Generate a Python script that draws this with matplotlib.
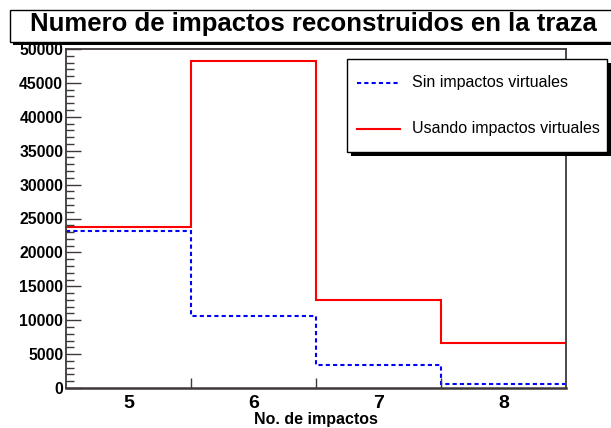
import matplotlib
matplotlib.use("Agg")
import matplotlib.pyplot as plt
from matplotlib.patches import Rectangle
from matplotlib.lines import Line2D
import numpy as np

# histogram data (number of reconstructed hits per track)
bin_labels = ["5", "6", "7", "8"]
bin_edges = [4.5, 5.5, 6.5, 7.5, 8.5]
sin_virtuales = [23200, 10600, 3400, 550]
con_virtuales = [23700, 48300, 13000, 6700]

title = "Numero de impactos reconstruidos en la traza"
xlabel = "No. de impactos"
leg_labels = ["Sin impactos virtuales", "Usando impactos virtuales"]

plt.rcParams['font.family'] = ['Liberation Sans', 'DejaVu Sans']

W, H = 611, 428
fig = plt.figure(figsize=(W / 100, H / 100), dpi=100)
ax = fig.add_axes([66 / W, 1 - 388 / H, 500 / W, 339 / H])

frame_col = '#3f3838'
ax.stairs(sin_virtuales, bin_edges, baseline=None, color='#0000ff',
          linewidth=1.5, linestyle=(0, (2, 1.5)))
ax.stairs(con_virtuales, bin_edges, baseline=None, color='#ff0000',
          linewidth=1.5)

ax.set_xlim(bin_edges[0], bin_edges[-1])
ax.set_ylim(0, 50000)

centers = [(bin_edges[i] + bin_edges[i + 1]) / 2 for i in range(len(bin_labels))]
ax.set_xticks(centers)
ax.set_xticklabels(bin_labels, fontsize=14, fontweight='bold')
ax.set_xticks(bin_edges[1:-1], minor=True)
ax.tick_params(axis='x', which='major', length=0, pad=5)
ax.tick_params(axis='x', which='minor', length=7.2, direction='in',
               color=frame_col, width=1)

ax.set_yticks(np.arange(0, 50001, 5000))
ax.set_yticks(np.arange(0, 50001, 1000), minor=True)
ax.set_yticklabels([str(v) for v in range(0, 50001, 5000)],
                   fontsize=11.3, fontweight='bold')
ax.tick_params(axis='y', which='major', length=10.8, direction='in',
               color=frame_col, width=1, pad=2)
ax.tick_params(axis='y', which='minor', length=5.4, direction='in',
               color=frame_col, width=1)

for s in ax.spines.values():
    s.set_color(frame_col)
    s.set_linewidth(1.3)
ax.spines['bottom'].set_linewidth(1.8)

ax.set_xlabel(xlabel, fontsize=11.5, fontweight='bold')
ax.xaxis.set_label_coords(0.5, (388 - 412) / 339)


def px(x, y):
    # figure pixel (top-left origin) -> figure fraction
    return x / W, 1 - y / H


# title box with shadow
x0, y0 = px(13, 44.5)
fig.add_artist(Rectangle((x0, y0), 1.0, 33 / H, transform=fig.transFigure,
                         facecolor='black', edgecolor='none', zorder=10))
x0, y0 = px(10, 42)
fig.add_artist(Rectangle((x0, y0), 1.0, 32.5 / H, transform=fig.transFigure,
                         facecolor='white', edgecolor='black', linewidth=1,
                         zorder=11))
tx, ty = px(313, 31)
fig.text(tx, ty, title, ha='center', va='baseline', fontsize=18.5,
         fontweight='bold', zorder=12)

# legend box with shadow
x0, y0 = px(351, 156)
fig.add_artist(Rectangle((x0, y0), 260 / W, 93 / H, transform=fig.transFigure,
                         facecolor='black', edgecolor='none', zorder=10))
x0, y0 = px(347, 152)
fig.add_artist(Rectangle((x0, y0), 260 / W, 93 / H, transform=fig.transFigure,
                         facecolor='white', edgecolor='black', linewidth=1,
                         zorder=11))
styles = [dict(color='#0000ff', linestyle=(0, (2, 1.5))),
          dict(color='#ff0000', linestyle='-')]
for label, st, yy in zip(leg_labels, styles, [83, 129]):
    xa, ya = px(357, yy)
    xb, _ = px(400, yy)
    fig.add_artist(Line2D([xa, xb], [ya, ya], transform=fig.transFigure,
                          linewidth=1.5, zorder=12, **st))
    xt, _ = px(412, yy)
    fig.text(xt, ya, label, ha='left', va='center', fontsize=11.5, zorder=12)

fig.savefig("out.png", dpi=100)
